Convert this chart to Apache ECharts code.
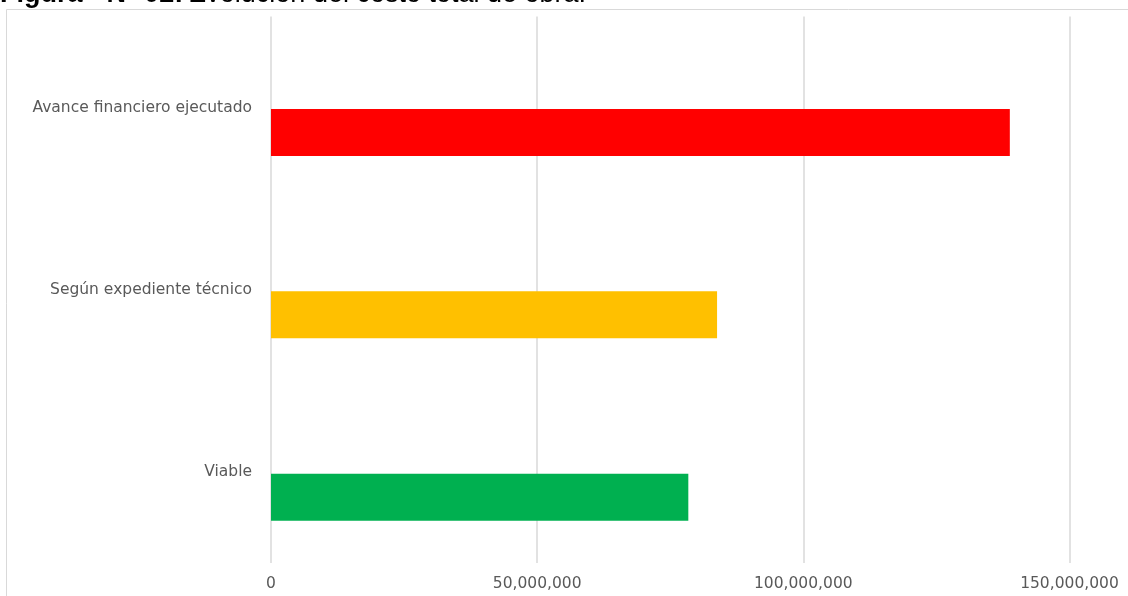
<!DOCTYPE html>
<html>
<head>
<meta charset="utf-8">
<script src="https://cdn.jsdelivr.net/npm/echarts@6/dist/echarts.min.js"></script>
<style>
html,body{margin:0;padding:0;background:#fff;}
#chart{width:1128px;height:596px;}
</style>
</head>
<body>
<div id="chart"></div>
<script>
// Data (bottom to top, as ECharts category y axis draws from bottom)
var categories = ['Viable', 'Según expediente técnico', 'Avance financiero ejecutado'];
var values = [78400000, 83800000, 138800000];
var barColors = ['#00B050', '#FFC000', '#FF0000'];
var tickValues = [0, 50000000, 100000000, 150000000];
var tickLabels = ['0', '50,000,000', '100,000,000', '150,000,000'];
var axisMax = 161000000;
var axisInterval = 50000000;
var titleBold = 'Figura - N° 02:';
var titleRest = 'Evolución del costo total de obra.';

var chart = echarts.init(document.getElementById('chart'), null, {renderer: 'canvas'});

function fmt(v) {
  var i = tickValues.indexOf(v);
  return i >= 0 ? tickLabels[i] : '';
}

var labelFont = {fontFamily: 'DejaVu Sans', fontSize: 15.5, color: '#595959'};

chart.setOption({
  animation: false,
  backgroundColor: '#ffffff',
  title: {
    text: '{b|' + titleBold + '} {n|' + titleRest + '}',
    left: 0,
    top: -19,
    padding: 0,
    z: 20,
    textStyle: {
      rich: {
        b: {fontFamily: 'Liberation Sans', fontWeight: 'bold', fontSize: 27, color: '#000'},
        n: {fontFamily: 'Liberation Sans', fontWeight: 'normal', fontSize: 27, color: '#000'}
      }
    }
  },
  graphic: [{
    type: 'rect',
    silent: true,
    z: -10,
    shape: {x: 6.5, y: 9.5, width: 1300, height: 800},
    style: {fill: '#ffffff', stroke: '#d9d9d9', lineWidth: 1}
  }],
  grid: [
    {left: 271, right: 0, top: 16.5, bottom: 33},
    {left: 271, right: 0, top: 41.3, bottom: 7.7}
  ],
  xAxis: [
    {
      gridIndex: 0,
      type: 'value',
      min: 0,
      max: axisMax,
      interval: axisInterval,
      axisLine: {show: false},
      axisTick: {show: false},
      splitLine: {show: true, showMaxLine: false, lineStyle: {color: '#d9d9d9', width: 1.5}},
      axisLabel: Object.assign({margin: 13, formatter: fmt, showMaxLabel: false}, labelFont)
    },
    {
      gridIndex: 1,
      type: 'value',
      min: 0,
      max: axisMax,
      interval: axisInterval,
      show: false,
      splitLine: {show: false}
    }
  ],
  yAxis: [
    {
      gridIndex: 0,
      type: 'category',
      data: categories,
      axisLine: {show: false},
      axisTick: {show: false},
      splitLine: {show: false},
      axisLabel: Object.assign({margin: 19}, labelFont)
    },
    {
      gridIndex: 1,
      type: 'category',
      data: categories,
      show: false
    }
  ],
  series: [{
    type: 'bar',
    xAxisIndex: 1,
    yAxisIndex: 1,
    barWidth: 47,
    data: values.map(function (v, i) {
      return {value: v, itemStyle: {color: barColors[i]}};
    })
  }]
});
</script>
</body>
</html>
